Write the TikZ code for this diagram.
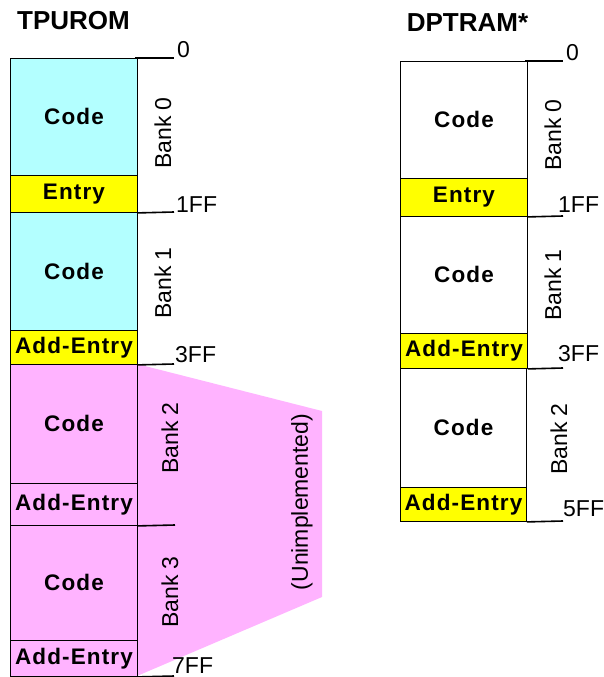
\documentclass[tikz,border=0pt]{standalone}
\usepackage{fontspec}
\setmainfont{Liberation Sans}
\newfontfamily\spacedfont[LetterSpace=5.0]{Liberation Sans}
\definecolor{cyanc}{HTML}{B3FFFF}
\definecolor{pinkc}{HTML}{FFB3FF}
\definecolor{yellowc}{HTML}{FFFF00}
\begin{document}
\begin{tikzpicture}[x=1pt,y=-1pt,
  mem/.style={draw=black, line width=0.9pt, inner sep=0pt, anchor=north west,
    minimum width=127pt, font=\spacedfont\bfseries\fontsize{22.5}{26}\selectfont},
  tick/.style={draw=black, line width=1.6pt},
  addr/.style={anchor=base west, inner sep=0pt, font=\fontsize{23}{27}\selectfont},
  bank/.style={rotate=90, inner sep=0pt, font=\fontsize{23}{27}\selectfont},
  title/.style={anchor=base, inner sep=0pt, font=\bfseries\fontsize{26}{30}\selectfont}]
\useasboundingbox (0,0) rectangle (604,677);

% titles
\node[title] (ttitle) at (73.5,29.5) {TPUROM};
\node[title] (dtitle) at (467.5,32) {DPTRAM*};

% TPUROM boxes
\node[mem, fill=cyanc, minimum height=117pt] (t0c) at (10,58) {Code};
\node[mem, fill=yellowc, minimum height=37pt] (t0e) at (10,175) {Entry};
\node[mem, fill=cyanc, minimum height=118pt] (t1c) at (10,212) {Code};
\node[mem, fill=yellowc, minimum height=34pt] (t1e) at (10,330) {Add-Entry};

% unimplemented area
\fill[pinkc] (137,364) -- (322,411) -- (322,597) -- (137,676) -- cycle;
\node[bank] (unimp) at (302,502) {(Unimplemented)};

\node[mem, fill=pinkc, minimum height=119pt] (t2c) at (10,364) {Code};
\node[mem, fill=pinkc, minimum height=42pt] (t2e) at (10,483) {Add-Entry};
\node[mem, fill=pinkc, minimum height=115pt] (t3c) at (10,525) {Code};
\node[mem, fill=pinkc, minimum height=36pt] (t3e) at (10,640) {Add-Entry};

% TPUROM ticks
\coordinate (ta) at (174,58);
\coordinate (tb) at (174,212);
\coordinate (tc) at (174,364);
\coordinate (td) at (175,525);
\coordinate (te) at (174,676);
\draw[tick] ([xshift=-3pt]t0c.north east) -- (ta);
\draw[tick] (t0e.south east) -- (tb);
\draw[tick] (t1e.south east) -- (tc);
\draw[tick] (t2e.south east) -- (td);
\draw[tick] (t3e.south east) -- (te);
\node[addr] (la) at (177,57) {0};
\node[addr] (lb) at (176,212) {1FF};
\node[addr] (lc) at (175,362) {3FF};
\node[addr] (le) at (172,673) {7FF};

% TPUROM bank labels
\node[bank] (tb0) at (163,133) {Bank 0};
\node[bank] (tb1) at (163,283) {Bank 1};
\node[bank] (tb2) at (170,438) {Bank 2};
\node[bank] (tb3) at (170,592) {Bank 3};

% DPTRAM boxes
\node[mem, fill=white, minimum height=117pt] (d0c) at (400,61) {Code};
\node[mem, fill=yellowc, minimum height=38pt] (d0e) at (400,178) {Entry};
\node[mem, fill=white, minimum height=117pt] (d1c) at (400,216) {Code};
\node[mem, fill=yellowc, minimum height=35pt] (d1e) at (400,333) {Add-Entry};
\node[mem, fill=white, minimum height=119pt, minimum width=126pt] (d2c) at (400,368) {Code};
\node[mem, fill=yellowc, minimum height=34pt, minimum width=126pt] (d2e) at (400,487) {Add-Entry};

% DPTRAM ticks
\coordinate (da) at (563,61);
\coordinate (db) at (563,216);
\coordinate (dc) at (563,368);
\coordinate (dd) at (563,521);
\draw[tick] ([xshift=-3pt]d0c.north east) -- (da);
\draw[tick] (d0e.south east) -- (db);
\draw[tick] (d1e.south east) -- (dc);
\draw[tick] (d2e.south east) -- (dd);
\node[addr] (ma) at (566,61) {0};
\node[addr] (mb) at (558,212) {1FF};
\node[addr] (mc) at (558,361) {3FF};
\node[addr] (md) at (563,516) {5FF};

% DPTRAM bank labels
\node[bank] (db0) at (553,135) {Bank 0};
\node[bank] (db1) at (553,285) {Bank 1};
\node[bank] (db2) at (559,439) {Bank 2};
\end{tikzpicture}
\end{document}
